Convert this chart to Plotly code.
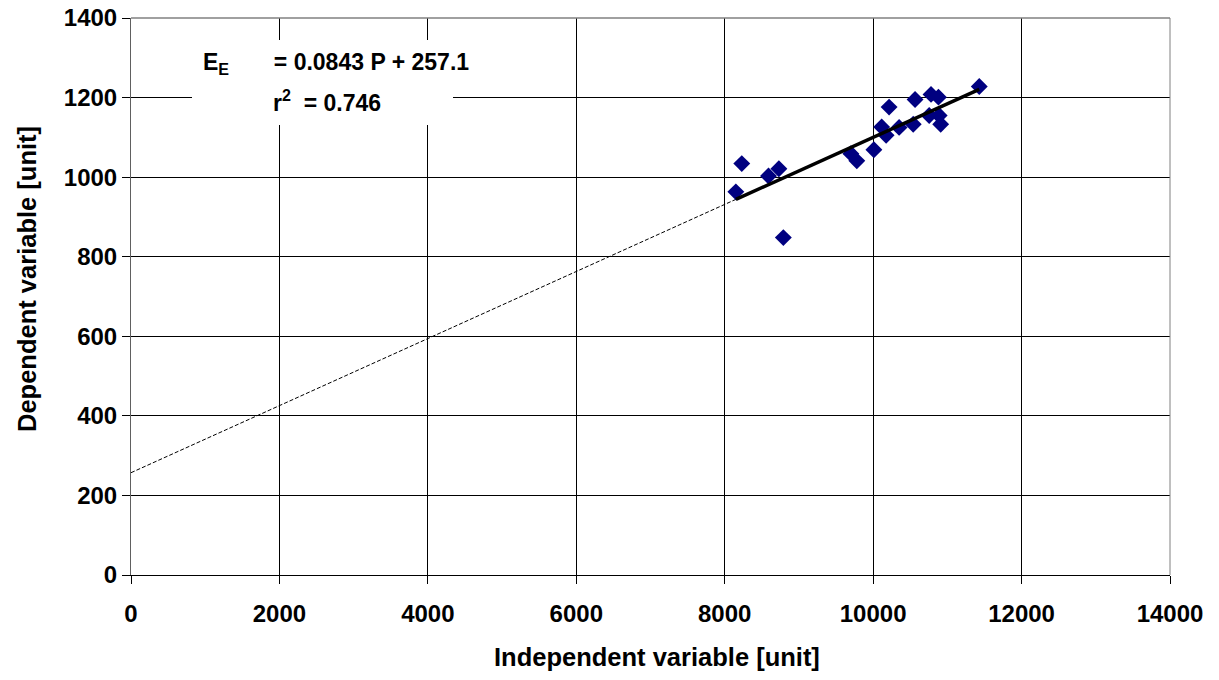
import plotly.graph_objects as go

# Data
x_vals = [8150, 8230, 8590, 8730, 8790, 9700, 9780, 10010, 10115, 10175,
          10215, 10350, 10540, 10565, 10755, 10780, 10880, 10890, 10910, 11430]
y_vals = [963, 1034, 1003, 1021, 848, 1059, 1041, 1069, 1126, 1105,
          1176, 1125, 1133, 1195, 1155, 1208, 1201, 1155, 1133, 1228]

slope = 0.0843
intercept = 257.1
r2 = 0.746

x_ticks = [0, 2000, 4000, 6000, 8000, 10000, 12000, 14000]
y_ticks = [0, 200, 400, 600, 800, 1000, 1200, 1400]

x_title = "Independent variable [unit]"
y_title = "Dependent variable [unit]"

FONT = "Liberation Sans, Arial, sans-serif"

xmin, xmax = min(x_vals), max(x_vals)

fig = go.Figure()
fig.add_trace(go.Scatter(
    x=[0, xmin], y=[intercept, intercept + slope * xmin],
    mode="lines", line=dict(color="black", width=1, dash="4px,2px"),
    hoverinfo="skip", showlegend=False))
fig.add_trace(go.Scatter(
    x=x_vals, y=y_vals, mode="markers",
    marker=dict(symbol="diamond", size=13, color="#000080",
                line=dict(width=0)),
    showlegend=False))
fig.add_trace(go.Scatter(
    x=[xmin, xmax], y=[intercept + slope * xmin, intercept + slope * xmax],
    mode="lines", line=dict(color="black", width=3.5),
    hoverinfo="skip", showlegend=False))

# page offset (body margin) and target plot-area in page pixels
OFF = 8
PAGE_W, PAGE_H = 1219, 680
PL, PR, PT, PB = 131, 1170, 18, 575

W, H = PAGE_W - OFF, PAGE_H - OFF
L = PL - OFF
T = PT - OFF
R = W - (PR - OFF)
B = H - (PB - OFF)
pw, ph = PR - PL, PB - PT


def px(xp):
    return (xp - PL) / pw


def py(yp):
    return (PB - yp) / ph


fig.update_layout(
    width=W, height=H,
    margin=dict(l=L, r=R, t=T, b=B, autoexpand=False),
    paper_bgcolor="white", plot_bgcolor="white",
    font=dict(family=FONT, size=24, color="black", weight="bold"),
    xaxis=dict(range=[0, 14000], tickvals=x_ticks, ticktext=[str(v) for v in x_ticks],
               showgrid=True, gridcolor="black", gridwidth=1,
               zeroline=False, showline=True, linecolor="black", linewidth=1,
               ticks="outside", ticklen=8, tickcolor="black",
               ticklabelstandoff=9, automargin=False, ticklabeloverflow="allow"),
    yaxis=dict(range=[0, 1400], tickvals=y_ticks, ticktext=[str(v) for v in y_ticks],
               showgrid=True, gridcolor="black", gridwidth=1,
               zeroline=False, showline=True, linecolor="#606060", linewidth=1,
               ticks="outside", ticklen=8, tickcolor="black",
               automargin=False, ticklabeloverflow="allow"),
    shapes=[
        dict(type="line", xref="paper", yref="paper", x0=0, x1=1, y0=1, y1=1,
             line=dict(color="#808080", width=1.5), layer="above"),
        dict(type="line", xref="paper", yref="paper", x0=1, x1=1, y0=0, y1=1,
             line=dict(color="#808080", width=1), layer="above"),
        dict(type="rect", xref="paper", yref="paper",
             x0=px(192), x1=px(453), y0=py(125), y1=py(40),
             fillcolor="white", line=dict(width=0), layer="above"),
    ],
    annotations=[
        dict(xref="paper", yref="paper", x=px(201), y=py(64),
             xanchor="left", yanchor="middle", showarrow=False,
             text="E<sub>E</sub>" + "\u00a0" * 7 + "= %.4f P + %.1f" % (slope, intercept),
             font=dict(size=23, weight="bold")),
        dict(xref="paper", yref="paper", x=px(271), y=py(101),
             xanchor="left", yanchor="middle", showarrow=False,
             text="r<sup>2</sup>" + "\u00a0" * 2 + "= %.3f" % r2,
             font=dict(size=23, weight="bold")),
        dict(xref="paper", yref="paper", x=px(657), y=py(657),
             xanchor="center", yanchor="middle", showarrow=False,
             text=x_title, font=dict(size=25.5, weight="bold")),
        dict(xref="paper", yref="paper", x=px(27), y=py(279),
             xanchor="center", yanchor="middle", showarrow=False, textangle=-90,
             text=y_title, font=dict(size=25.5, weight="bold")),
    ],
)

fig.write_html("out.html")
